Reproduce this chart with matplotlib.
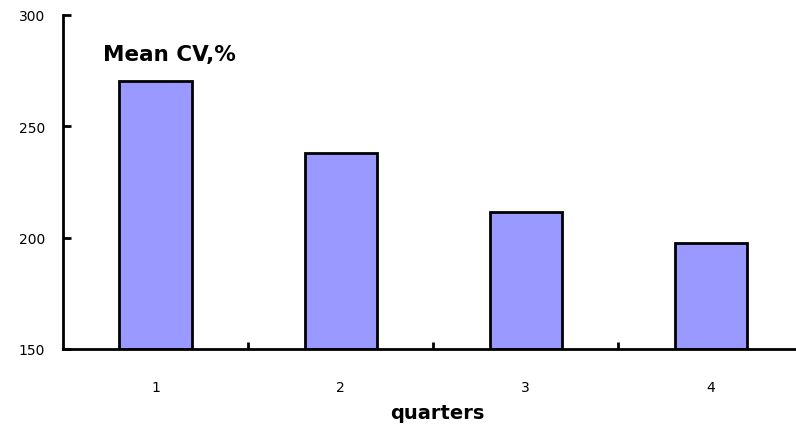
import matplotlib
matplotlib.use("Agg")
import matplotlib.pyplot as plt

plt.rcParams['font.family'] = ['DejaVu Sans']

quarters = [1, 2, 3, 4]
mean_cv = [270.5, 238, 211.5, 197.5]
y_ticks = [150, 200, 250, 300]
boundaries = [1.5, 2.5, 3.5]

fig = plt.figure(figsize=(7.96, 4.27), dpi=100)
ax = fig.add_axes([63 / 796, 1 - 350 / 427, 1 - 63 / 796, (350 - 16) / 427])

ax.bar(quarters, [v - 150 for v in mean_cv], bottom=150, width=0.39,
       color='#9999FF', edgecolor='black', linewidth=2)

ax.set_xlim(0.5, 4.46)
ax.set_ylim(150, 300)
ax.set_yticks(y_ticks)
ax.set_yticklabels([str(t) for t in y_ticks], fontsize=10)

# category ticks sit between bars, labels under the bar centres
ax.set_xticks(boundaries)
ax.set_xticklabels([])
ax.set_xticks(quarters, minor=True)
ax.set_xticklabels([str(q) for q in quarters], minor=True, fontsize=10)
ax.tick_params(axis='x', which='major', direction='in', length=5, width=2)
ax.tick_params(axis='x', which='minor', length=0, pad=22)
ax.tick_params(axis='y', direction='in', length=6, width=2, pad=13)

for side in ['top', 'right']:
    ax.spines[side].set_visible(False)
for side in ['left', 'bottom']:
    ax.spines[side].set_linewidth(2)

ax.text(0.5 + 40 / 186, 282.5, 'Mean CV,%', fontsize=15.5, fontweight='bold',
        va='center', ha='left')
fig.text(437 / 796, 1 - 414 / 427, 'quarters', fontsize=14, fontweight='bold',
         ha='center', va='center')

fig.savefig('out.png', dpi=100)
